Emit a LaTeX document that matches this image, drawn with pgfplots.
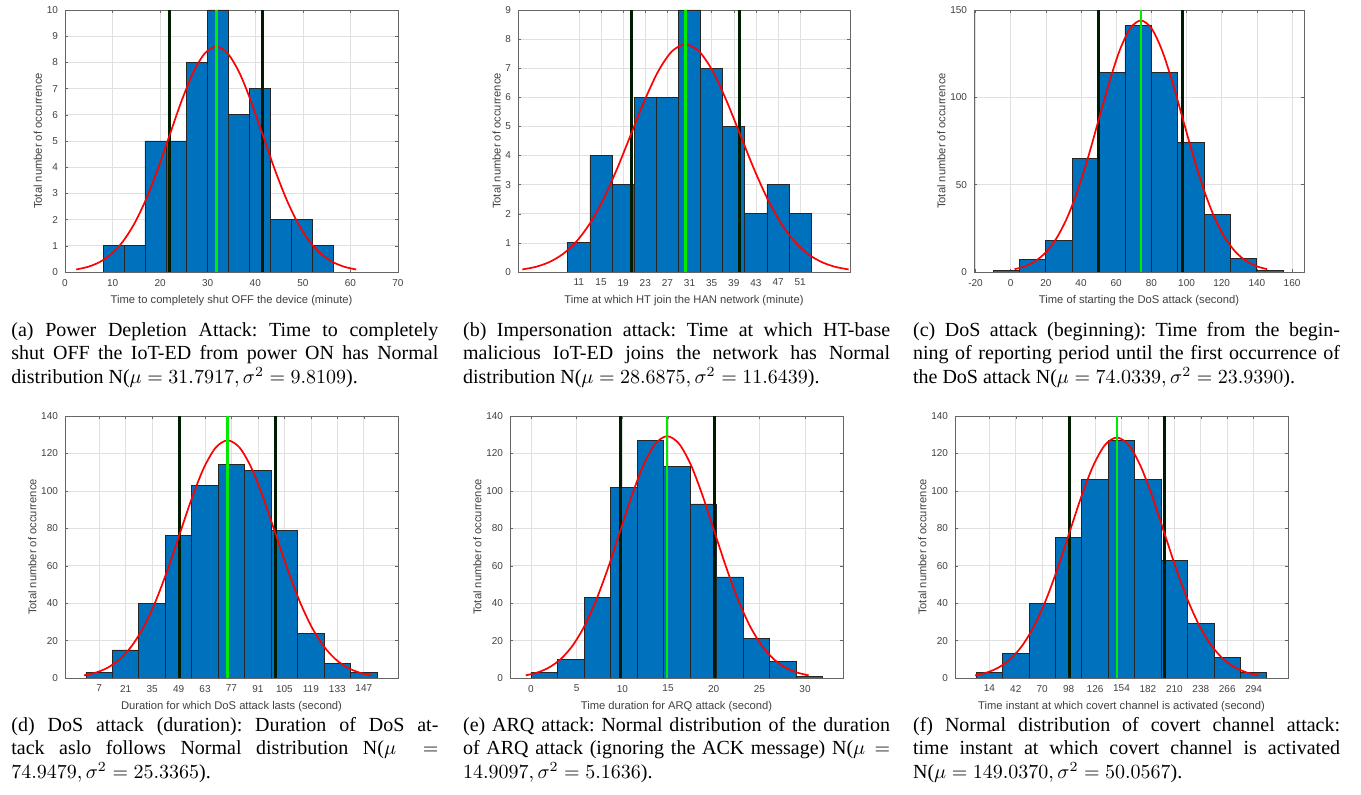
\documentclass[border=0pt]{standalone}
\usepackage{fontspec}
\setmainfont{Liberation Serif}
\newfontfamily\plotfont{Liberation Sans}
\usepackage{pgfplots}
\pgfplotsset{compat=1.18}

\definecolor{mblue}{RGB}{0,114,189}
\definecolor{sdcol}{RGB}{0,28,0}
\definecolor{mgreen}{RGB}{0,235,0}

\pgfplotsset{
  hist/.style={
    scale only axis, width=166.5pt, height=131pt,
    anchor=south west,
    axis line style={black!60},
    tick style={black!60},
    major tick length=1.6pt,
    grid=major, major grid style={black!12, line width=0.3pt},
    /pgf/number format/assume math mode=true,
    scaled ticks=false,
    ticklabel style={font=\plotfont\fontsize{5}{6}\selectfont, text=black!75},
    label style={font=\plotfont\fontsize{5.6}{6.5}\selectfont, text=black!75},
    ylabel={Total number of occurrence},
    ylabel shift=-4.5pt,
    xlabel shift=-2pt,
    ymin=0,
  },
  bars/.style={ybar interval, fill=mblue, draw=black!85, line width=0.4pt},
  fitc/.style={red, line width=0.85pt, smooth},
  sdl/.style={sdcol, line width=1.5pt},
  mul/.style={mgreen, line width=1.3pt},
}

\newcommand{\subcap}[1]{\parbox[t]{213.5pt}{\frenchspacing\fontsize{10}{11.65}\selectfont #1}}

\begin{document}
\begin{tikzpicture}
\path[use as bounding box] (0,0) rectangle (680.5pt,-397.5pt);

% ---------------- (a)
\begin{axis}[hist, at={(32.5pt,-136pt)},
  xmin=0, xmax=70, xtick={0,10,...,70},
  ymax=10, ytick={0,1,...,10},
  xlabel={Time to completely shut OFF the device (minute)}]
\addplot[bars] coordinates {
(8.00,1) (12.41,1) (16.81,5) (21.22,5) (25.62,8) (30.03,10)
(34.43,6) (38.84,7) (43.24,2) (47.65,2) (52.05,1) (56.46,0)};
\addplot[sdl] coordinates {(21.98,0) (21.98,10)};
\addplot[sdl] coordinates {(41.60,0) (41.60,10)};
\addplot[fitc] coordinates {
(2.36,0.096) (4.81,0.196) (7.27,0.378) (9.72,0.684) (12.17,1.164)
(14.62,1.860) (17.08,2.792) (19.53,3.937) (21.98,5.216) (24.43,6.492)
(26.89,7.590) (29.34,8.335) (31.79,8.600) (34.24,8.335) (36.70,7.590)
(39.15,6.492) (41.60,5.216) (44.05,3.937) (46.51,2.792) (48.96,1.860)
(51.41,1.164) (53.86,0.684) (56.32,0.378) (58.77,0.196) (61.22,0.096)};
\addplot[mul] coordinates {(31.79,0) (31.79,10)};
\end{axis}

% ---------------- (b)
\begin{axis}[hist, at={(259pt,-136pt)}, width=166pt,
  xmin=0, xmax=60, xtick={11,15,...,51},
  ymax=9, ytick={0,1,...,9},
  xlabel={Time at which HT join the HAN network (minute)}]
\addplot[bars] coordinates {
(9,1) (13,4) (17,3) (21,6) (25,6) (29,9)
(33,7) (37,5) (41,2) (45,3) (49,2) (53,0)};
\addplot[sdl] coordinates {(20.44,0) (20.44,9)};
\addplot[sdl] coordinates {(40.10,0) (40.10,9)};
\addplot[fitc] coordinates {
(0.78,0.087) (3.24,0.178) (5.70,0.344) (8.15,0.622) (10.61,1.058)
(13.07,1.691) (15.53,2.539) (17.98,3.580) (20.44,4.743) (22.90,5.903)
(25.36,6.901) (27.81,7.579) (30.27,7.820) (32.73,7.579) (35.19,6.901)
(37.64,5.903) (40.10,4.743) (42.56,3.580) (45.02,2.539) (47.47,1.691)
(49.93,1.058) (52.39,0.622) (54.85,0.344) (57.30,0.178) (59.76,0.087)};
\addplot[mul] coordinates {(30.27,0) (30.27,9)};
\end{axis}

% ---------------- (c)
\begin{axis}[hist, at={(487pt,-136pt)}, width=165pt,
  xmin=-20.85, xmax=166.8, xtick={-20,0,...,160},
  ymax=150, ytick={0,50,100,150},
  xlabel={Time of starting the DoS attack (second)}]
\addplot[bars] coordinates {
(-10,1) (5,7) (20,18) (35,65) (50,114) (65,141)
(80,114) (95,74) (110,33) (125,8) (140,1) (155,0)};
\addplot[sdl] coordinates {(50.09,0) (50.09,150)};
\addplot[sdl] coordinates {(97.97,0) (97.97,150)};
\addplot[fitc] coordinates {
(2.21,1.600) (8.20,3.282) (14.18,6.327) (20.17,11.457) (26.15,19.489)
(32.14,31.143) (38.12,46.750) (44.11,65.928) (50.09,87.340) (56.08,108.697)
(62.06,127.080) (68.05,139.569) (74.03,144.000) (80.02,139.569) (86.00,127.080)
(91.99,108.697) (97.97,87.340) (103.96,65.928) (109.94,46.750) (115.93,31.143)
(121.91,19.489) (127.90,11.457) (133.88,6.327) (139.87,3.282) (145.85,1.600)};
\addplot[mul] coordinates {(74.03,0) (74.03,150)};
\end{axis}

% ---------------- (d)
\begin{axis}[hist, at={(32.5pt,-339pt)},
  xmin=-11.1, xmax=165.1, xtick={7,21,...,147},
  ymax=140, ytick={0,20,...,140},
  xlabel={Duration for which DoS attack lasts (second)}]
\addplot[bars] coordinates {
(0,3) (14,15) (28,40) (42,76) (56,103) (70,114)
(84,111) (98,79) (112,24) (126,8) (140,3) (154,0)};
\addplot[sdl] coordinates {(49.61,0) (49.61,140)};
\addplot[sdl] coordinates {(100.29,0) (100.29,140)};
\addplot[fitc] coordinates {
(-1.07,1.411) (5.27,2.894) (11.60,5.580) (17.94,10.104) (24.27,17.188)
(30.61,27.466) (36.94,41.231) (43.28,58.144) (49.61,77.029) (55.95,95.865)
(62.28,112.078) (68.62,123.092) (74.95,127.000) (81.29,123.092) (87.62,112.078)
(93.96,95.865) (100.29,77.029) (106.63,58.144) (112.96,41.231) (119.30,27.466)
(125.63,17.188) (131.97,10.104) (138.30,5.580) (144.64,2.894) (150.97,1.411)};
\addplot[mul] coordinates {(74.95,0) (74.95,140)};
\end{axis}

% ---------------- (e)
\begin{axis}[hist, at={(255pt,-339pt)},
  xmin=-2.3, xmax=34.16, xtick={0,5,...,30},
  ymax=140, ytick={0,20,...,140},
  xlabel={Time duration for ARQ attack (second)}]
\addplot[bars] coordinates {
(0,3) (2.90,10) (5.81,43) (8.71,102) (11.61,127) (14.52,113)
(17.42,93) (20.32,54) (23.22,21) (26.13,9) (29.03,1) (31.93,0)};
\addplot[sdl] coordinates {(9.75,0) (9.75,140)};
\addplot[sdl] coordinates {(20.07,0) (20.07,140)};
\addplot[fitc] coordinates {
(-0.58,1.435) (0.71,2.944) (2.00,5.677) (3.29,10.279) (4.58,17.486)
(5.87,27.942) (7.16,41.945) (8.46,59.152) (9.75,78.364) (11.04,97.525)
(12.33,114.019) (13.62,125.225) (14.91,129.200) (16.20,125.225) (17.49,114.019)
(18.78,97.525) (20.07,78.364) (21.37,59.152) (22.66,41.945) (23.95,27.942)
(25.24,17.486) (26.53,10.279) (27.82,5.677) (29.11,2.944) (30.40,1.435)};
\addplot[mul] coordinates {(14.91,0) (14.91,140)};
\end{axis}

% ---------------- (f)
\begin{axis}[hist, at={(477.5pt,-339pt)},
  xmin=-22.4, xmax=330.4, xtick={14,42,...,294},
  ymax=140, ytick={0,20,...,140},
  xlabel={Time instant at which covert channel is activated (second)}]
\addplot[bars] coordinates {
(0,3) (28,13) (56,40) (84,75) (112,106) (140,127)
(168,106) (196,63) (224,29) (252,11) (280,3) (308,0)};
\addplot[sdl] coordinates {(98.98,0) (98.98,140)};
\addplot[sdl] coordinates {(199.10,0) (199.10,140)};
\addplot[fitc] coordinates {
(-1.14,1.428) (11.38,2.929) (23.89,5.646) (36.41,10.223) (48.92,17.391)
(61.44,27.791) (73.95,41.718) (86.47,58.831) (98.98,77.939) (111.50,96.997)
(124.01,113.401) (136.53,124.546) (149.04,128.500) (161.56,124.546) (174.07,113.401)
(186.59,96.997) (199.10,77.939) (211.62,58.831) (224.13,41.718) (236.65,27.791)
(249.16,17.391) (261.68,10.223) (274.19,5.646) (286.71,2.929) (299.22,1.428)};
\addplot[mul] coordinates {(149.04,0) (149.04,140)};
\end{axis}

% ---------------- captions
\node[anchor=base west, inner sep=0] at (5.5pt,-168.35pt) {\subcap{(a) Power Depletion Attack: Time to completely\linebreak shut OFF the IoT-ED from power ON has Normal\linebreak distribution N($\mu = 31.7917, \sigma^2 = 9.8109$).}};
\node[anchor=base west, inner sep=0] at (231.35pt,-168.35pt) {\subcap{(b) Impersonation attack: Time at which HT-base\linebreak malicious IoT-ED joins the network has Normal\linebreak distribution N($\mu = 28.6875, \sigma^2 = 11.6439$).}};
\node[anchor=base west, inner sep=0] at (456.35pt,-168.35pt) {\subcap{(c) DoS attack (beginning): Time from the begin-\linebreak ning of reporting period until the first occurrence of\linebreak the DoS attack N($\mu = 74.0339, \sigma^2 = 23.9390$).}};
\node[anchor=base west, inner sep=0] at (5.5pt,-365.85pt) {\subcap{(d) DoS attack (duration): Duration of DoS at-\linebreak tack aslo follows Normal distribution N($\mu =$\linebreak $74.9479, \sigma^2 = 25.3365$).}};
\node[anchor=base west, inner sep=0] at (231.35pt,-365.85pt) {\subcap{(e) ARQ attack: Normal distribution of the duration\linebreak of ARQ attack (ignoring the ACK message) N($\mu =$\linebreak $14.9097, \sigma^2 = 5.1636$).}};
\node[anchor=base west, inner sep=0] at (456.35pt,-365.85pt) {\subcap{(f) Normal distribution of covert channel attack:\linebreak time instant at which covert channel is activated\linebreak N($\mu = 149.0370, \sigma^2 = 50.0567$).}};
\end{tikzpicture}
\end{document}
